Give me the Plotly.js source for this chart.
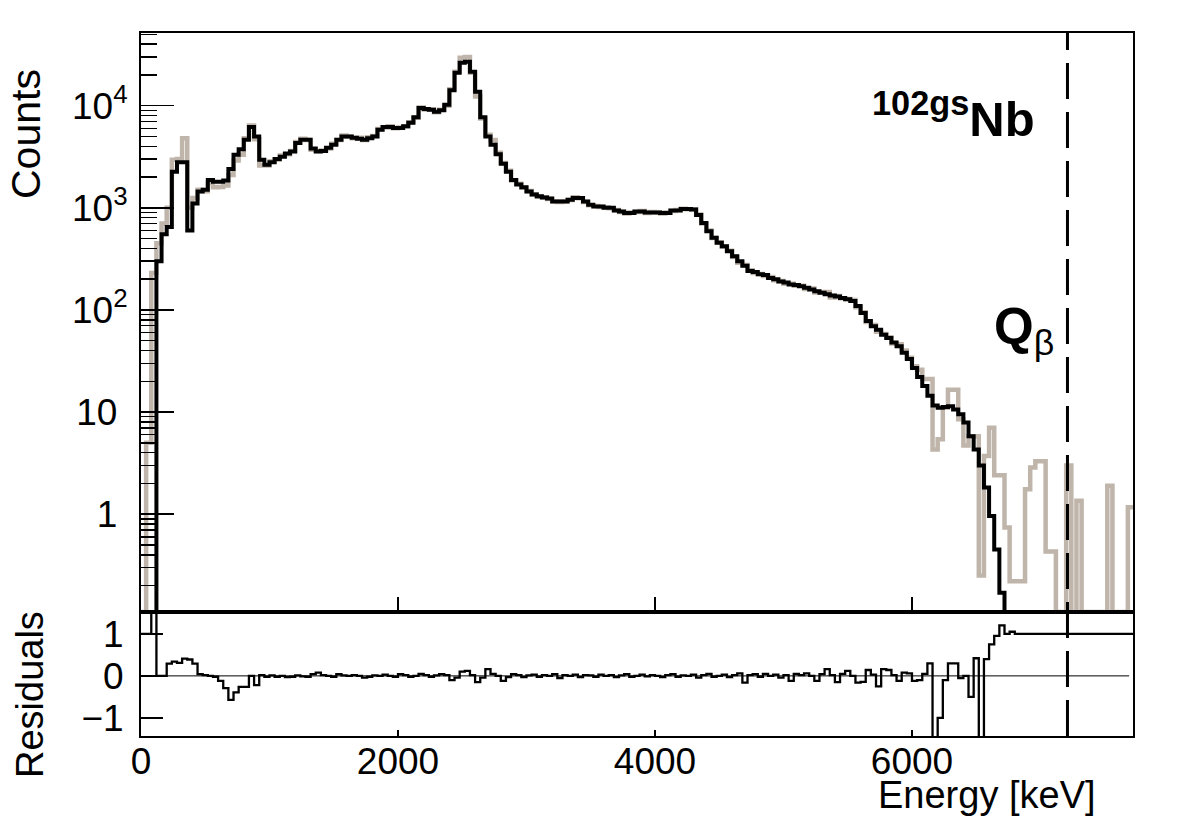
<!DOCTYPE html>
<html><head><meta charset="utf-8">
<script src="https://cdn.plot.ly/plotly-3.0.1.min.js"></script>
<style>html,body{margin:0;padding:0;background:#fff;} #chart{width:1182px;height:819px;}</style>
</head><body><div id="chart"></div>
<script>
// ---- data ----
const binWidthKeV = 40;           // histogram bin width, keV (193 bins from 0 to 7720 keV)
const dataCounts = [
 0,5,230,450,700,1000,2950,3000,4800,1000,
 1250,1500,1450,1750,1590,1600,1650,2100,2900,3300,
 4800,6400,4700,2600,2600,2850,2950,3250,3350,3600,
 4400,4750,4600,3700,3600,3650,3800,4250,4600,5100,
 4950,4800,4850,4600,4900,5050,5900,6100,6300,6000,
 6100,6250,6900,7600,9600,9200,9200,8600,9100,10000,
 14500,21500,29500,30000,21000,12300,7500,5200,4600,3450,
 2750,2300,1850,1720,1570,1460,1360,1280,1270,1220,
 1160,1140,1160,1190,1270,1240,1140,1060,1040,1020,
 1010,990,950,910,880,900,910,930,890,910,
 900,880,900,930,950,980,965,970,860,700,
 600,505,460,415,380,330,290,275,245,230,
 225,215,210,195,192,180,180,172,172,160,
 162,148,150,150,132,137,130,128,125,106,
 95,76,71,61,58,54,47,46,40,34,
 28,26,21,21,4.3,5.4,11,16.5,16.5,8.5,
 4.7,5.8,5.8,0.25,3.7,7.0,2.4,2.4,0.74,0.22,
 0.22,0.22,1.75,2.86,3.3,3.3,0.43,0.43,0,0,
 3.0,0,1.35,0,0,0,0,0,1.9,0,
 0,0,1.17
];
const fitCounts = [
 0,0,0,300,550,650,2250,2800,2800,600,
 1100,1440,1500,1870,1800,1800,1850,2400,3300,3750,
 4650,6200,5000,2950,2640,2800,3000,3170,3400,3550,
 4300,4650,4650,3800,3550,3600,3870,4150,4650,5000,
 5000,4850,4750,4650,4800,5000,5800,6200,6200,6050,
 6050,6300,6800,7700,9500,9300,9100,8700,9000,10200,
 14200,21000,26300,27000,21500,13700,7700,5000,4150,3350,
 2700,2250,1870,1690,1590,1440,1350,1300,1260,1230,
 1150,1150,1150,1200,1250,1250,1150,1070,1030,1030,
 1000,1000,940,920,890,890,920,920,900,900,
 900,890,890,940,940,975,975,960,850,710,
 590,510,455,420,375,335,300,270,240,235,
 223,220,205,200,190,185,177,175,170,165,
 158,152,147,142,138,135,131,127,122,109,
 93,78,69,64,57,53,48,44,38,33,
 27,22,18,14.4,11.6,11,11.2,11.4,10.6,9.5,
 7.9,5.8,4.3,3.0,1.82,0.96,0.45,0.17,0,0,
 0,0,0,0,0,0,0,0,0,0,
 0,0,0,0,0,0,0,0,0,0,
 0,0,0
];
const residuals = [
 1.0,1.0,3.0,0.0,0.0,0.29,0.34,0.31,0.41,0.39,
 0.29,0.04,0.02,0.0,-0.02,-0.12,-0.29,-0.57,-0.39,-0.26,
 -0.26,0.0,-0.22,0.02,-0.02,0.01,-0.02,0.0,-0.03,-0.02,
 0.01,-0.01,-0.02,0.04,0.08,0.02,0.0,-0.02,0.04,0.01,
 0.0,0.02,0.0,-0.04,-0.02,0.01,0.0,0.03,0.0,-0.02,
 0.04,0.02,-0.02,0.0,0.05,0.02,-0.02,0.01,0.04,0.02,
 -0.1,-0.04,0.1,0.12,0.02,-0.15,-0.04,0.16,0.05,0.0,
 -0.12,-0.03,0.04,0.02,-0.03,0.01,0.03,-0.02,0.02,0.0,
 0.04,-0.05,0.02,0.0,0.03,-0.03,0.02,0.01,-0.02,0.03,
 0.0,0.02,-0.03,0.01,0.04,-0.02,0.0,0.03,-0.01,0.02,
 0.0,-0.03,0.02,0.04,-0.02,0.01,0.0,0.03,-0.04,0.02,
 0.05,-0.02,0.0,0.03,-0.03,0.02,0.06,-0.16,0.02,0.04,
 -0.02,0.05,0.0,0.03,-0.04,0.02,-0.12,0.05,0.02,0.06,
 0.0,-0.12,0.04,0.16,0.02,-0.15,0.05,0.12,0.0,-0.16,
 -0.14,0.14,0.03,-0.25,0.16,0.14,0.02,-0.12,0.08,0.06,
 -0.12,-0.1,0.05,0.3,-3.0,-1.0,-0.1,0.3,0.3,-0.05,
 0.0,-0.5,0.42,-3.0,0.4,0.75,0.95,1.2,1.0,1.05,
 1.0,1.0,1.0,1.0,1.0,1.0,1.0,1.0,1.0,1.0,
 1.0,1.0,1.0,1.0,1.0,1.0,1.0,1.0,1.0,1.0,
 1.0,1.0,1.0
];
const qBetaKeV = 7210;
const xTickVals = [0,2000,4000,6000];
const xTickText = ['0','2000','4000','6000'];
const yTickVals = [1,10,100,1000,10000];
const yTickText = ['1\u00a0','10\u00a0','10<sup>2</sup>','10<sup>3</sup>','10<sup>4</sup>'];
const resTickVals = [-1,0,1];
const resTickText = ['\u22121','0','1'];

// ---- drawing ----
const xMax = binWidthKeV * dataCounts.length;
const yMin = 0.11, yMax = 51500;
const FONT = 'Liberation Sans, Arial, Helvetica, sans-serif';
const edges = dataCounts.map((_, i) => i * binWidthKeV).concat([xMax]);
const stepY = (arr, floor) => arr.concat([arr[arr.length - 1]]).map(v => (floor !== undefined && v <= 0) ? floor : v);

const minorVals = [];
for (let d = -1; d <= 4; d++) for (let k = 2; k <= 9; k++) {
  const v = k * Math.pow(10, d);
  if (v > yMin && v < yMax) minorVals.push(v);
}

const L = 141, R = 1133, T = 33, B = 736, MID = 612;
const pw = R - L, ph = B - T;
const px = x => (x - L) / pw;
const py = y => (B - y) / ph;
const split = (B - MID) / ph;

const traces = [
  {x: edges, y: stepY(dataCounts, yMin), xaxis: 'x2', yaxis: 'y', type: 'scatter', mode: 'lines',
   line: {shape: 'hv', color: '#bfb5aa', width: 4.5}, hoverinfo: 'skip'},
  {x: edges, y: stepY(fitCounts, yMin), xaxis: 'x2', yaxis: 'y', type: 'scatter', mode: 'lines',
   line: {shape: 'hv', color: '#000', width: 4}, hoverinfo: 'skip'},
  {x: edges, y: stepY(residuals), xaxis: 'x', yaxis: 'y2', type: 'scatter', mode: 'lines',
   line: {shape: 'hv', color: '#000', width: 2.3}, hoverinfo: 'skip'}
];

const axisCommon = {showline: true, linecolor: '#000', linewidth: 2, mirror: true, ticks: 'inside',
  tickcolor: '#000', showgrid: false, zeroline: false, tickfont: {family: FONT, size: 37, color: '#000'}};

const layout = {
  width: 1182, height: 819,
  margin: {l: L, r: 1182 - R, t: T, b: 819 - B, pad: 0},
  paper_bgcolor: '#fff', plot_bgcolor: '#fff', showlegend: false,
  font: {family: FONT, color: '#000'},
  xaxis: Object.assign({}, axisCommon, {domain: [0, 1], anchor: 'y2', range: [0, xMax],
    tickmode: 'array', tickvals: xTickVals, ticktext: xTickText, ticklen: 6, tickwidth: 1.5, ticklabelstandoff: -8}),
  xaxis2: Object.assign({}, axisCommon, {domain: [0, 1], anchor: 'y', matches: 'x', range: [0, xMax],
    tickmode: 'array', tickvals: xTickVals, showticklabels: false, ticklen: 15, tickwidth: 1.5}),
  yaxis: Object.assign({}, axisCommon, {domain: [split, 1], anchor: 'x2', type: 'log',
    range: [Math.log10(yMin), Math.log10(yMax)], tickmode: 'array', tickvals: yTickVals, ticktext: yTickText,
    ticklen: 33, tickwidth: 1.5, ticklabelstandoff: 4,
    minor: {ticks: 'inside', ticklen: 16, tickwidth: 1.5, tickcolor: '#000', tickmode: 'array', tickvals: minorVals}}),
  yaxis2: Object.assign({}, axisCommon, {domain: [0, split], anchor: 'x', range: [-1.43, 1.52],
    tickmode: 'array', tickvals: resTickVals, ticktext: resTickText, ticklen: 22, tickwidth: 1.5, ticklabelstandoff: 8}),
  shapes: [
    {type: 'line', xref: 'x', yref: 'y2', x0: 0, x1: xMax - 30, y0: 0, y1: 0, line: {color: '#000', width: 1}},
    {type: 'line', xref: 'x', yref: 'paper', x0: qBetaKeV, x1: qBetaKeV, y0: 0, y1: 1,
     line: {color: '#000', width: 3, dash: '36px,13px'}}
  ],
  annotations: [
    {text: 'Counts', xref: 'paper', yref: 'paper', x: px(26), y: py(134), textangle: -90,
     xanchor: 'center', yanchor: 'middle', showarrow: false, font: {family: FONT, size: 41, color: '#000'}},
    {text: 'Residuals', xref: 'paper', yref: 'paper', x: px(30), y: py(695), textangle: -90,
     xanchor: 'center', yanchor: 'middle', showarrow: false, font: {family: FONT, size: 38, color: '#000'}},
    {text: 'Energy [keV]', xref: 'paper', yref: 'paper', x: px(1098), y: py(795),
     xanchor: 'right', yanchor: 'middle', showarrow: false, font: {family: FONT, size: 38, color: '#000'}},
    {text: '<b><sup>102gs</sup>Nb</b>', xref: 'paper', yref: 'paper', x: px(1037), y: py(115),
     xanchor: 'right', yanchor: 'middle', showarrow: false, font: {family: FONT, size: 49, color: '#000'}},
    {text: '<b>Q</b><sub>\u03b2</sub>', xref: 'paper', yref: 'paper', x: px(992), y: py(330),
     xanchor: 'left', yanchor: 'middle', showarrow: false, font: {family: FONT, size: 51, color: '#000'}}
  ]
};

Plotly.newPlot('chart', traces, layout, {displayModeBar: false, staticPlot: true});
</script></body></html>
